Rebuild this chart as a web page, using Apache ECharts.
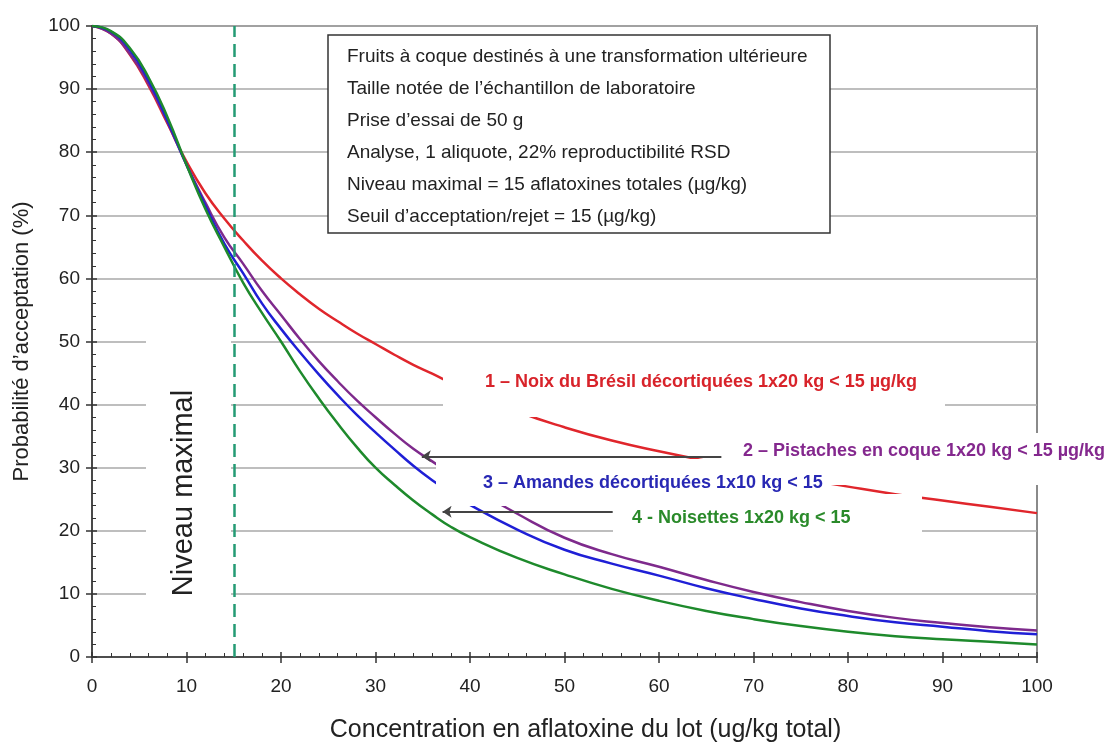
<!DOCTYPE html>
<html><head><meta charset="utf-8">
<script src="https://cdn.jsdelivr.net/npm/echarts@6/dist/echarts.min.js"></script>
<style>html,body{margin:0;padding:0;background:#fff}#c{width:1108px;height:744px}</style>
</head><body><div id="c"></div>
<script>
// ---- data ----
const concentration = [0,2,4,6,8,10,12,14,16,18,20,22,24,26,28,30,32,34,36,38,40,45,50,55,60,65,70,75,80,85,90,95,100];
const noixBresil = [100,98.8,95.5,90.5,84.5,78.5,73.5,69.5,66,62.8,60,57.5,55.2,53.2,51.3,49.6,47.9,46.3,44.9,43.4,42,38.9,36.4,34.3,32.6,31.1,29.7,28.3,27.0,25.8,24.8,23.8,22.8];
const pistaches = [100,98.8,95.6,90.8,84.7,78,72,66.5,62.3,58,54.2,50.4,46.9,43.7,40.7,38,35.4,33,31,29,27,22.7,18.9,16.3,14.3,12.2,10.3,8.7,7.3,6.2,5.4,4.7,4.2];
const amandes = [100,99.1,96.2,91.3,85,78,71.5,65.5,60.8,56,52,48.3,44.8,41.5,38.4,35.6,32.9,30.3,28,26,24.1,20.2,17,14.8,12.9,10.9,9.2,7.7,6.5,5.5,4.8,4.1,3.6];
const noisettes = [100,99.2,96.5,91.8,85.5,78,71,65,59.3,54.5,50,45.3,41,37,33.3,30,27.3,24.8,22.6,20.6,19,15.7,13.1,10.8,8.9,7.3,6,4.9,4,3.3,2.8,2.4,2];
const seriesNames = [
  "1 – Noix du Brésil décortiquées 1x20 kg < 15 µg/kg",
  "2 – Pistaches en coque 1x20 kg < 15 µg/kg",
  "3 – Amandes décortiquées 1x10 kg < 15",
  "4 - Noisettes 1x20 kg < 15"
];
const infoLines = [
  "Fruits à coque destinés à une transformation ultérieure",
  "Taille notée de l’échantillon de laboratoire",
  "Prise d’essai de 50 g",
  "Analyse, 1 aliquote, 22% reproductibilité RSD",
  "Niveau maximal = 15 aflatoxines totales (µg/kg)",
  "Seuil d’acceptation/rejet = 15 (µg/kg)"
];
const maxLevel = 15;
const maxLevelLabel = "Niveau maximal";
const arrowPistaches = [[66.6, 31.8], [34.9, 31.8]];
const arrowNoisettes = [[55.1, 23.0], [37.1, 23.0]];
const xAxisTitle = "Concentration en aflatoxine du lot (ug/kg total)";
const yAxisTitle = "Probabilité d’acceptation (%)";

// ---- chart ----
const FONT = '"Liberation Sans", Arial, sans-serif';
const colors = ['#e0262c', '#7e2a8c', '#1f1fd6', '#1e8a2c'];
const labelColors = ['#d8232a', '#84288e', '#2828b4', '#2a8a2a'];
const seriesData = [noixBresil, pistaches, amandes, noisettes];

const chart = echarts.init(document.getElementById('c'), null, {renderer: 'canvas'});

const series = seriesData.map((vals, i) => ({
  type: 'line',
  name: seriesNames[i],
  data: concentration.map((x, k) => [x, vals[k]]),
  smooth: true,
  showSymbol: false,
  symbol: 'none',
  lineStyle: {color: colors[i], width: 2.5},
  z: 3
}));
series[0].markLine = {
  silent: true, symbol: 'none', label: {show: false},
  lineStyle: {color: '#249b74', width: 2.5, type: [13, 7]},
  data: [{xAxis: maxLevel}]
};
series[1].markLine = {
  silent: true, symbol: ['none', 'arrow'], symbolSize: 9, label: {show: false},
  lineStyle: {color: '#444', width: 2, type: 'solid'},
  data: [
    [{coord: arrowPistaches[0]}, {coord: arrowPistaches[1]}],
    [{coord: arrowNoisettes[0]}, {coord: arrowNoisettes[1]}]
  ]
};

const graphic = [];
// info box
graphic.push({type: 'rect', z: 100, shape: {x: 328, y: 35, width: 502, height: 198},
  style: {fill: '#fff', stroke: '#333', lineWidth: 1.5}});
infoLines.forEach((t, i) => graphic.push({type: 'text', z: 101, x: 347, y: 57 + 32 * i,
  style: {text: t, fill: '#222', font: '19px ' + FONT, verticalAlign: 'middle'}}));
// white boxes behind series labels (they hide lines like in the original)
const boxes = [[443, 362, 502, 55], [722, 433, 386, 52], [436, 459, 364, 47], [613, 494, 309, 46], [146, 300, 85, 350]];
boxes.forEach(b => graphic.push({type: 'rect', z: 100, shape: {x: b[0], y: b[1], width: b[2], height: b[3]},
  style: {fill: '#fff'}}));
const labelPos = [[485, 382], [743, 451], [483, 483], [632, 518]];
seriesNames.forEach((t, i) => graphic.push({type: 'text', z: 101, x: labelPos[i][0], y: labelPos[i][1],
  style: {text: t, fill: labelColors[i], font: 'bold 18px ' + FONT, verticalAlign: 'middle'}}));
graphic.push({type: 'text', z: 101, x: 184, y: 493, rotation: Math.PI / 2,
  style: {text: maxLevelLabel, fill: '#222', font: '29px ' + FONT, align: 'center', verticalAlign: 'middle'}});

chart.setOption({
  animation: false,
  backgroundColor: '#fff',
  grid: {left: 92, right: 71, top: 26, bottom: 87, show: true, borderColor: '#8a8a8a', borderWidth: 2,
         containLabel: false, outerBoundsMode: 'none'},
  xAxis: [{
    type: 'value', min: 0, max: 100, interval: 10, position: 'bottom',
    axisLine: {lineStyle: {color: '#333', width: 1.5}},
    axisTick: {length: 6, lineStyle: {color: '#333', width: 1.5}},
    axisLabel: {fontSize: 19, color: '#222', margin: 20, fontFamily: FONT},
    splitLine: {show: false},
    name: xAxisTitle, nameLocation: 'middle', nameGap: 61,
    nameTextStyle: {fontSize: 25, color: '#222', fontFamily: FONT, padding: [0, 0, 0, 42]}
  }, {
    type: 'value', min: 0, max: 100, interval: 10, position: 'bottom',
    axisLine: {show: false}, axisLabel: {show: false}, splitLine: {show: false},
    axisTick: {inside: true, length: 5, lineStyle: {color: '#333', width: 1.5}},
    minorTick: {show: true, splitNumber: 5, length: 4, lineStyle: {color: '#333', width: 1}}
  }],
  yAxis: [{
    type: 'value', min: 0, max: 100, interval: 10, position: 'left',
    axisLine: {lineStyle: {color: '#333', width: 1.5}},
    axisTick: {length: 6, lineStyle: {color: '#333', width: 1.5}},
    axisLabel: {fontSize: 19, color: '#222', margin: 12, fontFamily: FONT},
    splitLine: {show: true, lineStyle: {color: '#a8a8a8', width: 1.5}},
    name: yAxisTitle, nameLocation: 'middle', nameGap: 59, nameRotate: 90,
    nameTextStyle: {fontSize: 22, color: '#222', fontFamily: FONT}
  }, {
    type: 'value', min: 0, max: 100, interval: 10, position: 'left',
    axisLine: {show: false}, axisLabel: {show: false}, splitLine: {show: false},
    axisTick: {inside: true, length: 5, lineStyle: {color: '#333', width: 1.5}},
    minorTick: {show: true, splitNumber: 5, length: 4, lineStyle: {color: '#333', width: 1}}
  }],
  series: series,
  graphic: graphic
});
</script></body></html>
